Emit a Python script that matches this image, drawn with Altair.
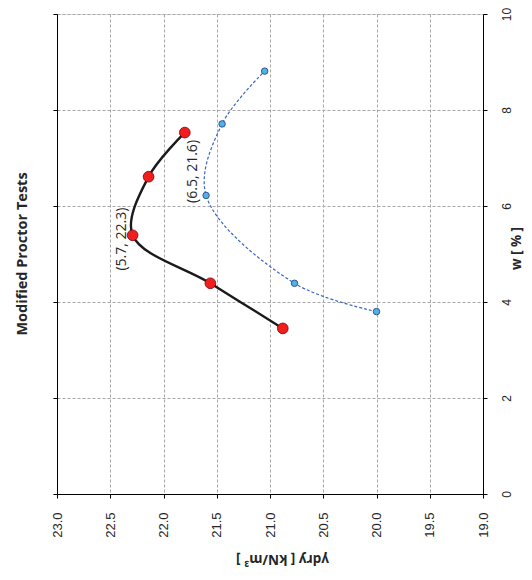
import altair as alt
import pandas as pd

# Modified Proctor (red) and second series (blue)
w_modified = [3.45, 4.39, 5.39, 6.61, 7.53]
g_modified = [20.88, 21.56, 22.29, 22.14, 21.80]
w_standard = [3.80, 4.39, 6.22, 7.71, 8.81]
g_standard = [20.00, 20.77, 21.60, 21.45, 21.05]

ann_text = ["(5.7, 22.3)", "(6.5, 21.6)"]
ann_w = [5.31, 6.72]
ann_g = [22.39, 21.72]

gamma_ticks = [19.0, 19.5, 20.0, 20.5, 21.0, 21.5, 22.0, 22.5, 23.0]
w_ticks = [0, 2, 4, 6, 8, 10]

df_m = pd.DataFrame({"w": w_modified, "g": g_modified})
df_s = pd.DataFrame({"w": w_standard, "g": g_standard})
df_a = pd.DataFrame({"w": ann_w, "g": ann_g, "t": ann_text})

xs = alt.Scale(domain=[19, 23], reverse=True, nice=False, zero=False)
ys = alt.Scale(domain=[0, 10], nice=False, zero=False)

x_axis = alt.Axis(
    orient="bottom", values=gamma_ticks, format=".1f", labelAngle=270,
    labelAlign="right", labelBaseline="middle", labelPadding=14,
    labelFont="Liberation Sans", labelFontSize=13, labelColor="#262626",
    tickSize=4, tickColor="#000000", domainColor="#000000", domainWidth=1,
    grid=True, gridColor="#a6a6a6", gridDash=[3, 2], gridWidth=1,
    title="γdry [ kN/m³ ]", titleAngle=180, titleFont="Open Sans",
    titleFontSize=13.5, titleFontWeight="bold", titleColor="#262626",
    titleX=225, titleY=64, titleAlign="center", titleBaseline="middle",
)
y_axis_right = alt.Axis(
    orient="right", values=w_ticks, format="d", labelAngle=270,
    labelAlign="center", labelBaseline="top", labelPadding=14,
    labelFont="Liberation Sans", labelFontSize=12, labelColor="#262626",
    tickSize=4, tickColor="#000000", domainColor="#000000", domainWidth=1,
    grid=True, gridColor="#a6a6a6", gridDash=[3, 2], gridWidth=1,
    title="w [ % ]", titleAngle=270, titleFont="Open Sans",
    titleFontSize=13.5, titleFontWeight="bold", titleColor="#262626",
    titleX=33, titleY=234, titleAlign="center", titleBaseline="middle",
)
y_axis_left = alt.Axis(
    orient="left", values=w_ticks, labels=False, tickSize=4,
    tickColor="#000000", domainColor="#000000", domainWidth=1,
    grid=False, title=None,
)

X = alt.X("g:Q", scale=xs, axis=x_axis)
Y = alt.Y("w:Q", scale=ys, axis=y_axis_right)

blue_line = alt.Chart(df_s).mark_line(
    color="#3a63c8", strokeWidth=1.2, strokeDash=[3, 2], interpolate="catmull-rom"
).encode(x=X, y=Y, order="w:Q")
blue_pts = alt.Chart(df_s).mark_circle(
    size=42, color="#4fb3e6", stroke="#2f5597", strokeWidth=1, opacity=1
).encode(x=X, y=Y)
black_line = alt.Chart(df_m).mark_line(
    color="#1a1a1a", strokeWidth=2.4, interpolate="catmull-rom"
).encode(x=X, y=Y, order="w:Q")
red_pts = alt.Chart(df_m).mark_circle(
    size=115, color="#f01e1e", stroke="#7a0000", strokeWidth=0.8, opacity=1
).encode(x=X, y=Y)
ann = alt.Chart(df_a).mark_text(
    angle=270, font="Open Sans", fontSize=14, color="#262626",
    align="center", baseline="middle"
).encode(x=X, y=Y, text="t:N")

main = alt.layer(blue_line, blue_pts, black_line, red_pts, ann)

left = alt.Chart(df_m).mark_point(opacity=0).encode(
    x=X, y=alt.Y("w:Q", scale=ys, axis=y_axis_left)
)

chart = alt.layer(left, main).resolve_scale(y="independent").properties(
    width=426, height=480,
    autosize=alt.AutoSizeParams(type="none"),
    padding={"left": 49, "top": 6, "right": 41, "bottom": 74},
    title=alt.TitleParams(
        "Modified Proctor Tests", orient="left", anchor="middle",
        font="Open Sans", fontSize=14.5, fontWeight="bold", color="#262626",
        offset=21,
    ),
).configure_view(stroke=None).configure(background="white")

chart.save("out.html", embed_options={"renderer": "svg", "actions": False})
